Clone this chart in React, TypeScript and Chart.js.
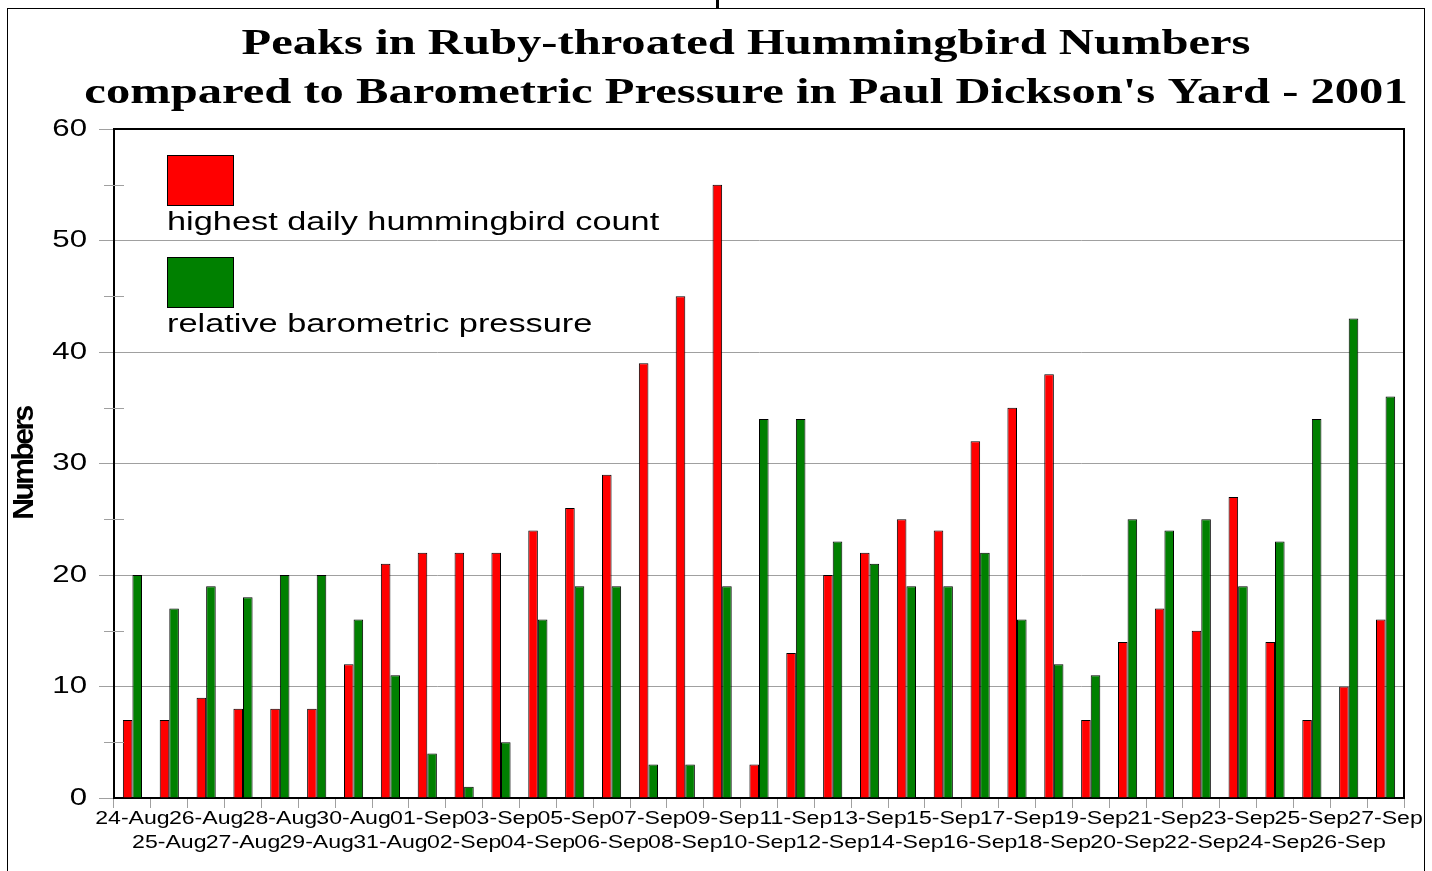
import React, { useEffect, useRef } from 'react';
import { Chart, registerables } from 'chart.js';

Chart.register(...registerables);

// ---- data ----
const categories = [
  '24-Aug', '25-Aug', '26-Aug', '27-Aug', '28-Aug', '29-Aug', '30-Aug', '31-Aug',
  '01-Sep', '02-Sep', '03-Sep', '04-Sep', '05-Sep', '06-Sep', '07-Sep', '08-Sep',
  '09-Sep', '10-Sep', '11-Sep', '12-Sep', '13-Sep', '14-Sep', '15-Sep', '16-Sep',
  '17-Sep', '18-Sep', '19-Sep', '20-Sep', '21-Sep', '22-Sep', '23-Sep', '24-Sep',
  '25-Sep', '26-Sep', '27-Sep',
];
const hummingbirdCounts = [
  7, 7, 9, 8, 8, 8, 12, 21, 22, 22, 22, 24, 26, 29, 39, 45, 55, 3, 13, 20, 22,
  25, 24, 32, 35, 38, 7, 14, 17, 15, 27, 14, 7, 10, 16,
];
const pressureValues = [
  20, 17, 19, 18, 20, 20, 16, 11, 4, 1, 5, 16, 19, 19, 3, 3, 19, 34, 34, 23, 21,
  19, 19, 22, 16, 12, 11, 25, 24, 25, 19, 23, 34, 43, 36,
];
const seriesLabels = ['highest daily hummingbird count', 'relative barometric pressure'];
const titleLines = [
  'Peaks in Ruby-throated Hummingbird Numbers',
  "compared to Barometric Pressure in Paul Dickson's Yard - 2001",
];
const yAxisTitle = 'Numbers';
const yMin = 0;
const yMax = 60;
const yStep = 10;

const RED = '#ff0000';
const GREEN = '#008000';
const GRID = '#a0a0a0';
const SANS = '"Liberation Sans", Arial, sans-serif';

// draw text horizontally widened, like the original bitmap
function stretchedFill(ctx: any, orig: any, sx: number) {
  return function (this: any, text: string, x: number, y: number) {
    ctx.save();
    ctx.translate(x, y);
    ctx.scale(sx, 1);
    orig.call(ctx, text, 0, 0);
    ctx.restore();
  };
}

const stylePlugin = {
  id: 'stylePlugin',
  beforeDraw(chart: any) {
    const ctx = chart.ctx;
    const wrap = (obj: any, key: string, opts: { spacing?: string; sx?: number; dx?: number }) => {
      if (!obj || obj['__wrapped_' + key]) return;
      const orig = obj[key];
      obj[key] = function (...args: any[]) {
        ctx.save();
        if (opts.spacing) ctx.letterSpacing = opts.spacing;
        if (opts.dx) ctx.translate(opts.dx, 0);
        const origFill = CanvasRenderingContext2D.prototype.fillText;
        if (opts.sx) ctx.fillText = stretchedFill(ctx, origFill, opts.sx);
        try {
          return orig.apply(this, args);
        } finally {
          if (opts.sx) delete ctx.fillText;
          ctx.restore();
        }
      };
      obj['__wrapped_' + key] = true;
    };
    wrap(chart.scales.x, 'drawLabels', { sx: 1.32 });
    wrap(chart.scales.y, 'drawLabels', { sx: 1.3 });
    wrap(chart.scales.y, 'drawTitle', { spacing: '-2.5px' });
    wrap(chart.titleBlock, 'draw', { sx: 1.35, dx: 44 });
  },
  afterDraw(chart: any) {
    const ctx = chart.ctx;
    const { left, top, right, bottom } = chart.chartArea;
    const y = chart.scales.y;
    ctx.save();
    // minor ticks at midpoints between major ticks
    ctx.strokeStyle = GRID;
    ctx.lineWidth = 1;
    const ticks = y.ticks;
    for (let i = 0; i < ticks.length - 1; i++) {
      const v = (ticks[i].value + ticks[i + 1].value) / 2;
      const py = Math.round(y.getPixelForValue(v)) + 0.5;
      ctx.beginPath();
      ctx.moveTo(left - 10, py);
      ctx.lineTo(left + 10, py);
      ctx.stroke();
    }
    // top and right frame of plot
    ctx.strokeStyle = '#000';
    ctx.lineWidth = 2;
    ctx.beginPath();
    ctx.moveTo(left, top);
    ctx.lineTo(right, top);
    ctx.lineTo(right, bottom);
    ctx.stroke();
    // legend inside plot
    chart.data.datasets.forEach((ds: any, i: number) => {
      const bx = left + 53;
      const by = top + 26 + i * 102;
      ctx.fillStyle = ds.backgroundColor;
      ctx.fillRect(bx, by, 67, 51);
      ctx.strokeStyle = '#000';
      ctx.lineWidth = 1;
      ctx.strokeRect(bx + 0.5, by + 0.5, 66, 50);
      ctx.fillStyle = '#000';
      ctx.font = '26px ' + SANS;
      ctx.textBaseline = 'alphabetic';
      ctx.textAlign = 'left';
      ctx.save();
      ctx.translate(bx, by + 75);
      ctx.scale(1.32, 1);
      ctx.fillText(ds.label, 0, 0);
      ctx.restore();
    });
    ctx.restore();
  },
};

export default function App() {
  const canvasRef = useRef<HTMLCanvasElement | null>(null);

  useEffect(() => {
    if (!canvasRef.current) return;
    const chart = new Chart(canvasRef.current, {
      type: 'bar',
      data: {
        labels: categories,
        datasets: [
          {
            label: seriesLabels[0],
            data: hummingbirdCounts,
            backgroundColor: RED,
            borderColor: '#000',
            borderWidth: 1,
            categoryPercentage: 0.52,
            barPercentage: 1.0,
          },
          {
            label: seriesLabels[1],
            data: pressureValues,
            backgroundColor: GREEN,
            borderColor: '#000',
            borderWidth: 1,
            categoryPercentage: 0.52,
            barPercentage: 1.0,
          },
        ],
      },
      options: {
        animation: false,
        responsive: true,
        maintainAspectRatio: false,
        layout: { padding: { left: 0, right: 28, top: 0, bottom: 0 } },
        plugins: {
          legend: { display: false },
          tooltip: { enabled: false },
          title: {
            display: true,
            text: titleLines,
            color: '#000',
            font: { family: '"Liberation Serif", "Times New Roman", serif', size: 36, weight: 'bold', lineHeight: 49 / 36 },
            padding: { top: 20, bottom: 11 },
          },
        },
        scales: {
          x: {
            afterFit: (s: any) => { s.height = 73; },
            grid: {
              offset: true,
              drawOnChartArea: false,
              drawTicks: true,
              tickLength: 10,
              tickColor: GRID,
              tickWidth: 1,
            },
            border: { display: true, color: '#000', width: 2 },
            ticks: {
              autoSkip: false,
              maxRotation: 0,
              minRotation: 0,
              padding: -1,
              color: '#000',
              font: { family: SANS, size: 17.5, lineHeight: 24 / 17.5 },
              callback: (_v: any, index: number) =>
                index % 2 === 0 ? [categories[index], ''] : ['', categories[index]],
            },
          },
          y: {
            min: yMin,
            max: yMax,
            afterFit: (s: any) => { s.width = 114; },
            grid: {
              color: GRID,
              lineWidth: 1,
              tickLength: 15,
              tickColor: GRID,
            },
            border: { display: true, color: '#000', width: 2 },
            ticks: {
              stepSize: yStep,
              padding: 12,
              color: '#000',
              font: { family: SANS, size: 24 },
            },
            title: {
              display: true,
              text: yAxisTitle,
              color: '#000',
              padding: { top: 7, bottom: 0 },
              font: { family: SANS, size: 30, weight: 'bold', lineHeight: 1.2 },
            },
          },
        },
      },
      plugins: [stylePlugin],
    });
    return () => chart.destroy();
  }, []);

  return (
    <div style={{ position: 'fixed', left: 0, top: 0, width: 1432, height: 871, overflow: 'hidden', background: '#fff' }}>
      <div style={{ position: 'absolute', left: 0, top: 0, width: 1432, height: 871 }}>
        <canvas ref={canvasRef} />
      </div>
      <div style={{ position: 'absolute', left: 7, top: 8, width: 1416, height: 900, borderLeft: '1px solid #000', borderTop: '1px solid #000', borderRight: '1px solid #000', pointerEvents: 'none' }} />
      <div style={{ position: 'absolute', left: 716, top: 0, width: 3, height: 9, background: '#000', pointerEvents: 'none' }} />
    </div>
  );
}
